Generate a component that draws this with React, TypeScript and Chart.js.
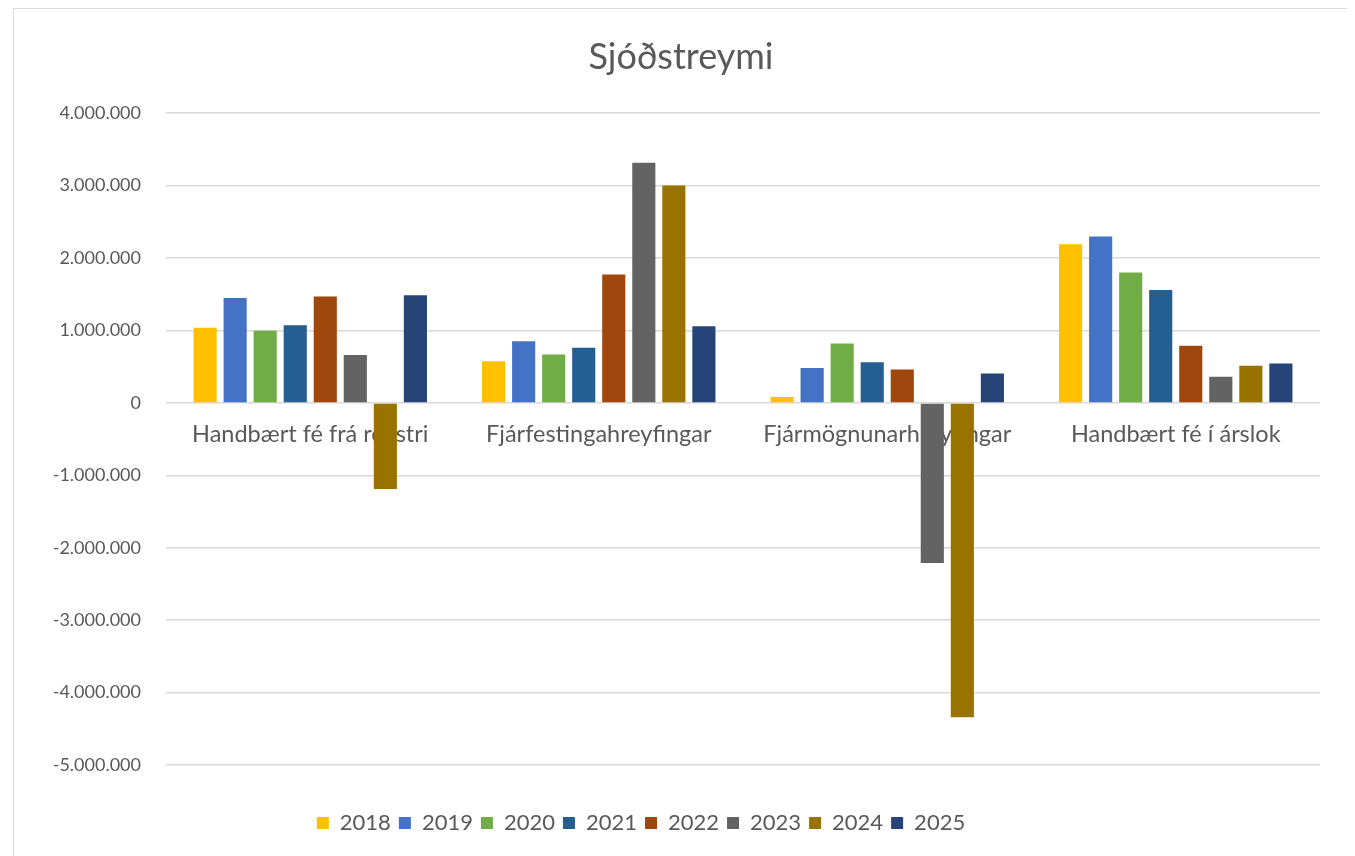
import React, { useEffect, useRef } from "react";
import { Chart, registerables } from "chart.js";

Chart.register(...registerables);

const categories = [
  "Handbært fé frá rekstri",
  "Fjárfestingahreyfingar",
  "Fjármögnunarhreyfingar",
  "Handbært fé í árslok",
];

const years = ["2018", "2019", "2020", "2021", "2022", "2023", "2024", "2025"];

const y2018 = [1036000, 575000, 83000, 2190000];
const y2019 = [1447000, 851000, 483000, 2296000];
const y2020 = [995000, 667000, 819000, 1800000];
const y2021 = [1073000, 760000, 561000, 1559000];
const y2022 = [1470000, 1772000, 460000, 788000];
const y2023 = [662000, 3315000, -2210000, 360000];
const y2024 = [-1190000, 3000000, -4340000, 512000];
const y2025 = [1485000, 1058000, 405000, 545000];

const seriesValues = [y2018, y2019, y2020, y2021, y2022, y2023, y2024, y2025];

const colors = [
  "#FFC000",
  "#4472C4",
  "#70AD47",
  "#255E91",
  "#9E480E",
  "#636363",
  "#997300",
  "#264478",
];

const yMin = -5000000;
const yMax = 4000000;
const yStep = 1000000;

const FONT = "Lato, 'Open Sans', sans-serif";
const TEXT = "#595959";

function fmt(v: number): string {
  const s = Math.abs(Math.round(v)).toString().replace(/\B(?=(\d{3})+(?!\d))/g, ".");
  return (v < 0 ? "-" : "") + s;
}

const boxShift = {
  id: "boxShift",
  afterLayout(chart: any) {
    const l = chart.legend;
    if (l) {
      l.left -= 26;
      l.right -= 26;
    }
    const t = chart.titleBlock;
    if (t) {
      t.left += 14;
      t.right += 14;
    }
  },
};

export default function App() {
  const ref = useRef<HTMLCanvasElement | null>(null);

  useEffect(() => {
    if (!ref.current) return;
    const chart = new Chart(ref.current, {
      type: "bar",
      data: {
        labels: categories,
        datasets: years.map((yr, i) => ({
          label: yr,
          data: seriesValues[i],
          backgroundColor: colors[i],
          borderWidth: 0,
          categoryPercentage: 0.833,
          barPercentage: 0.77,
        })),
      },
      plugins: [boxShift],
      options: {
        responsive: false,
        animation: false,
        layout: { padding: { left: 0, right: 30, top: 0, bottom: 12 } },
        plugins: {
          title: {
            display: true,
            text: "Sjóðstreymi",
            color: TEXT,
            font: { family: FONT, size: 36, weight: "normal" },
            padding: { top: 27, bottom: 34 },
          },
          legend: {
            display: true,
            position: "bottom",
            labels: {
              color: TEXT,
              font: { family: FONT, size: 22 },
              boxWidth: 12,
              boxHeight: 12,
              padding: 8,
            },
          },
          tooltip: { enabled: false },
        },
        scales: {
          x: {
            type: "category",
            position: { y: 0 } as any,
            grid: { display: false, drawTicks: false },
            border: { display: false },
            ticks: {
              color: TEXT,
              font: { family: FONT, size: 23.5 },
              padding: 17,
              maxRotation: 0,
              autoSkip: false,
            },
          },
          x2: {
            type: "category",
            position: "bottom",
            grid: { display: false, drawTicks: false },
            border: { display: false },
            ticks: { display: false },
            afterFit(scale: any) {
              scale.height = 39;
            },
          },
          y: {
            min: yMin,
            max: yMax,
            grid: { color: "#d9d9d9", lineWidth: 1.5, drawTicks: false },
            border: { display: false },
            ticks: {
              stepSize: yStep,
              color: TEXT,
              font: { family: FONT, size: 18 },
              padding: 25,
              callback: (v: any) => fmt(Number(v)),
            },
            afterFit(scale: any) {
              scale.width = 152;
            },
          },
        },
      },
    });
    return () => chart.destroy();
  }, []);

  return (
    <div
      style={{
        marginLeft: 5,
        width: 1338,
        height: 848,
        boxSizing: "border-box",
        borderTop: "1px solid #d9d9d9",
        borderLeft: "1px solid #d9d9d9",
        borderRight: "1px solid #d9d9d9",
        background: "#fff",
        overflow: "hidden",
      }}
    >
      <canvas ref={ref} width={1336} height={847} style={{ display: "block" }} />
    </div>
  );
}
